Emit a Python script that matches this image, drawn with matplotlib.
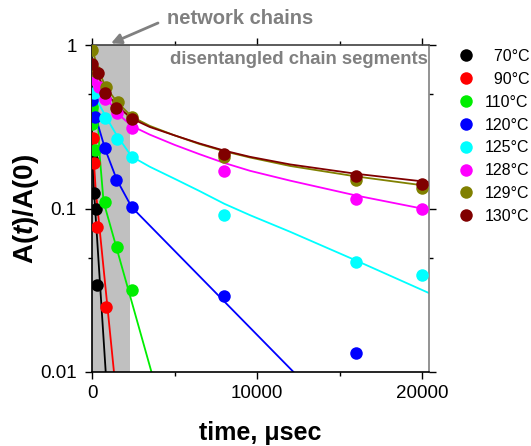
import numpy as np
import matplotlib
matplotlib.use('Agg')
import matplotlib.pyplot as plt
from matplotlib import ticker

plt.rcParams['font.family'] = ['Liberation Sans', 'DejaVu Sans']
plt.rcParams['mathtext.fontset'] = 'custom'
plt.rcParams['mathtext.rm'] = 'Liberation Sans:bold'
plt.rcParams['mathtext.it'] = 'Liberation Sans:bold:italic'
plt.rcParams['mathtext.bf'] = 'Liberation Sans:bold'

# temperatures and colours
labels = ['\u200770\u00b0C', '\u200790\u00b0C', '110\u00b0C', '120\u00b0C',
          '125\u00b0C', '128\u00b0C', '129\u00b0C', '130\u00b0C']
colors = ['#000000', '#ff0000', '#00ee00', '#0000ff',
          '#00ffff', '#ff00ff', '#808000', '#800000']

# measured points (time in usec, A(t)/A(0))
t_70 = [0, 150, 220, 330]
a_70 = [0.2, 0.125, 0.1, 0.034]
t_90 = [0, 50, 100, 330, 830]
a_90 = [0.35, 0.27, 0.19, 0.0775, 0.025]
t_110 = [0, 20, 180, 790, 1500, 2400]
a_110 = [0.42, 0.33, 0.228, 0.11, 0.058, 0.0316]
t_120 = [0, 180, 790, 1480, 2400, 8000, 16000]
a_120 = [0.46, 0.364, 0.233, 0.149, 0.102, 0.0291, 0.0131]
t_125 = [100, 790, 1540, 2400, 8000, 16000, 20000]
a_125 = [0.51, 0.36, 0.265, 0.207, 0.0913, 0.0472, 0.0393]
t_128 = [0, 400, 790, 1500, 2400, 8000, 16000, 20000]
a_128 = [0.62, 0.55, 0.47, 0.385, 0.31, 0.169, 0.114, 0.099]
t_129 = [0, 200, 830, 1550, 2400, 8000, 16000, 20000]
a_129 = [0.93, 0.69, 0.556, 0.45, 0.364, 0.206, 0.15, 0.133]
t_130 = [0, 380, 790, 1480, 2400, 8000, 16000, 20000]
a_130 = [0.77, 0.67, 0.506, 0.41, 0.351, 0.214, 0.157, 0.141]

# fit curves
ft_70 = [0, 120, 830]
fa_70 = [0.25, 0.129, 0.01]
ft_90 = [0, 224, 1330]
fa_90 = [0.3, 0.13, 0.01]
ft_110 = [300, 450, 700, 3600]
fa_110 = [0.48, 0.22, 0.11, 0.01]
ft_120 = [100, 800, 1500, 2400, 12200]
fa_120 = [0.40, 0.23, 0.15, 0.102, 0.01]
ft_slow = [0, 400, 800, 1500, 2400, 3500, 5000, 6500, 8000, 9570, 12000, 16000, 20400]
fa_125 = [0.56, 0.44, 0.37, 0.28, 0.208, 0.18, 0.152, 0.128, 0.107, 0.091, 0.072, 0.048, 0.0304]
fa_128 = [0.65, 0.56, 0.49, 0.385, 0.32, 0.283, 0.245, 0.215, 0.19, 0.17, 0.148, 0.12, 0.098]
fa_129 = [0.95, 0.70, 0.56, 0.45, 0.365, 0.32, 0.28, 0.248, 0.224, 0.205, 0.182, 0.157, 0.137]
fa_130 = [0.80, 0.64, 0.52, 0.425, 0.355, 0.315, 0.28, 0.25, 0.226, 0.207, 0.186, 0.163, 0.145]

points = [(t_70, a_70), (t_90, a_90), (t_110, a_110), (t_120, a_120),
          (t_125, a_125), (t_128, a_128), (t_129, a_129), (t_130, a_130)]
fits = [(ft_70, fa_70), (ft_90, fa_90), (ft_110, fa_110), (ft_120, fa_120),
        (ft_slow, fa_125), (ft_slow, fa_128), (ft_slow, fa_129), (ft_slow, fa_130)]

network_end = 2330

fig = plt.figure(figsize=(5.31, 4.46), dpi=100)
ax = fig.add_axes([92 / 531, 1 - 372 / 446, 337 / 531, 327 / 446])

ax.axvspan(0, network_end, color='#c0c0c0', zorder=0, lw=0)

handles = []
for (t, a), (ft, fa), c, lab in zip(points, fits, colors, labels):
    ax.plot(ft, fa, '-', color=c, lw=1.3, zorder=2)
    h, = ax.plot(t, a, 'o', color=c, ms=9, mec='none', zorder=3, label=lab)
    handles.append(h)

ax.set_yscale('log')
ax.set_xlim(0, 20400)
ax.set_ylim(0.01, 1)

ax.xaxis.set_major_locator(ticker.FixedLocator([0, 10000, 20000]))
ax.xaxis.set_minor_locator(ticker.FixedLocator([5000, 15000]))
ax.xaxis.set_major_formatter(ticker.FuncFormatter(lambda v, p: '%d' % v))
ax.yaxis.set_major_locator(ticker.FixedLocator([0.01, 0.1, 1]))
ax.yaxis.set_minor_locator(ticker.FixedLocator([0.05, 0.5]))
ax.yaxis.set_major_formatter(ticker.FuncFormatter(lambda v, p: '%g' % v))
ax.yaxis.set_minor_formatter(ticker.NullFormatter())

ax.tick_params(which='both', direction='out', top=True, right=True,
               labelsize=13.5, width=1)
ax.tick_params(which='major', length=5)
ax.tick_params(which='minor', length=3)
ax.tick_params(axis='x', pad=4)
ax.tick_params(axis='y', pad=6)

ax.spines['right'].set_color('#808080')
ax.spines['top'].set_color('#404040')
for s in ax.spines.values():
    s.set_linewidth(1.2)

ax.set_xlabel('time, \u03bcsec', fontsize=18, fontweight='bold', labelpad=14)
ax.set_ylabel(r'$\mathrm{A(}t\mathrm{)/A(0)}$', fontsize=20, labelpad=-0.5)

ax.text(0.232, 0.957, 'disentangled chain segments', transform=ax.transAxes,
        fontsize=13.3, fontweight='bold', color='#808080', va='center', ha='left')
ax.text(167 / 531, 1 - 18 / 446, 'network chains', transform=fig.transFigure,
        fontsize=14.5, fontweight='bold', color='#808080', va='center', ha='left')
ax.annotate('', xy=(1150, 1.005), xycoords=('data', 'axes fraction'),
            xytext=(158 / 531, 1 - 23 / 446), textcoords='figure fraction',
            arrowprops=dict(arrowstyle='-|>', color='#808080', lw=2,
                            mutation_scale=15, shrinkA=0, shrinkB=0),
            annotation_clip=False)

fig.legend(handles=handles, loc='upper left', bbox_to_anchor=(458 / 531, 0.890),
           frameon=False, fontsize=11.5, handlelength=1.0, handletextpad=0.69,
           labelspacing=0.49, borderpad=0, borderaxespad=0, numpoints=1)

fig.savefig('out.png', dpi=100)
